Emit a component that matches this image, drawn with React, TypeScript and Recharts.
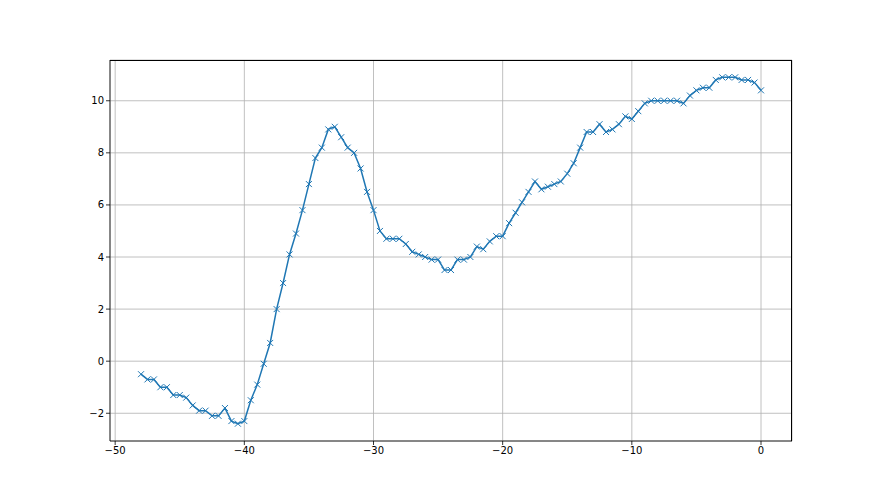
import React from "react";
import { LineChart, Line, XAxis, YAxis, CartesianGrid } from "recharts";

// x positions, step 0.5 from -48 to 0
const xValues: number[] = [
  -48, -47.5, -47, -46.5, -46, -45.5, -45, -44.5, -44, -43.5, -43, -42.5, -42, -41.5, -41, -40.5, -40,
  -39.5, -39, -38.5, -38, -37.5, -37, -36.5, -36, -35.5, -35, -34.5, -34, -33.5, -33, -32.5, -32, -31.5, -31, -30.5, -30,
  -29.5, -29, -28.5, -28, -27.5, -27, -26.5, -26, -25.5, -25, -24.5, -24, -23.5, -23, -22.5, -22, -21.5, -21, -20.5, -20,
  -19.5, -19, -18.5, -18, -17.5, -17, -16.5, -16, -15.5, -15, -14.5, -14, -13.5, -13, -12.5, -12, -11.5, -11, -10.5, -10,
  -9.5, -9, -8.5, -8, -7.5, -7, -6.5, -6, -5.5, -5, -4.5, -4, -3.5, -3, -2.5, -2, -1.5, -1, -0.5, 0,
];

const yValues: number[] = [
  -0.5, -0.7, -0.7, -1.0, -1.0, -1.3, -1.3, -1.4, -1.7, -1.9, -1.9, -2.1, -2.1, -1.8, -2.3, -2.4, -2.3,
  -1.5, -0.9, -0.1, 0.7, 2.0, 3.0, 4.1, 4.9, 5.8, 6.8, 7.8, 8.2, 8.9, 9.0, 8.6, 8.2, 8.0, 7.4, 6.5, 5.8,
  5.0, 4.7, 4.7, 4.7, 4.5, 4.2, 4.1, 4.0, 3.9, 3.9, 3.5, 3.5, 3.9, 3.9, 4.0, 4.4, 4.3, 4.6, 4.8, 4.8,
  5.3, 5.7, 6.1, 6.5, 6.9, 6.6, 6.7, 6.8, 6.9, 7.2, 7.6, 8.2, 8.8, 8.8, 9.1, 8.8, 8.9, 9.1, 9.4, 9.3,
  9.6, 9.9, 10.0, 10.0, 10.0, 10.0, 10.0, 9.9, 10.2, 10.4, 10.5, 10.5, 10.8, 10.9, 10.9, 10.9, 10.8, 10.8, 10.7, 10.4,
];

const xTicks = [-50, -40, -30, -20, -10, 0];
const yTicks = [-2, 0, 2, 4, 6, 8, 10];

const data = xValues.map((x, i) => ({ x, y: yValues[i] }));

const fmt = (v: number) => String(v).replace("-", "\u2212");

const XMarker = (props: any) => {
  const { cx, cy, index } = props;
  if (cx == null || cy == null) return <g key={index} />;
  const s = 3;
  return (
    <path
      key={index}
      d={`M${cx - s},${cy - s}L${cx + s},${cy + s}M${cx - s},${cy + s}L${cx + s},${cy - s}`}
      stroke="#1f77b4"
      strokeWidth={1}
      fill="none"
    />
  );
};

const tickStyle = { fontSize: 10, fill: "#000", fontFamily: "DejaVu Sans" };

export default function App() {
  return (
    <div style={{ position: "absolute", left: 0, top: 0, width: 880, height: 495, background: "#fff" }}>
      <LineChart width={880} height={495} data={data} margin={{ top: 60, right: 88, bottom: 24, left: 0 }}>
        <CartesianGrid stroke="#b0b0b0" strokeWidth={0.8} />
        <XAxis
          dataKey="x"
          type="number"
          domain={[-50.4, 2.4]}
          ticks={xTicks}
          allowDataOverflow
          tickFormatter={fmt}
          tick={tickStyle}
          tickSize={4}
          tickMargin={2}
          height={30}
          axisLine={{ stroke: "#000", strokeWidth: 0.8 }}
          tickLine={{ stroke: "#000", strokeWidth: 0.8 }}
        />
        <YAxis
          type="number"
          domain={[-3.065, 11.565]}
          ticks={yTicks}
          allowDataOverflow
          tickFormatter={fmt}
          tick={tickStyle}
          tickSize={4}
          tickMargin={2}
          width={110}
          axisLine={{ stroke: "#000", strokeWidth: 0.8 }}
          tickLine={{ stroke: "#000", strokeWidth: 0.8 }}
        />
        <Line
          dataKey="y"
          type="linear"
          stroke="#1f77b4"
          strokeWidth={1.5}
          dot={XMarker}
          activeDot={false}
          isAnimationActive={false}
        />
      </LineChart>
      {/* plot frame (top and right spines) */}
      <div
        style={{
          position: "absolute",
          left: 110,
          top: 60,
          width: 682,
          height: 381,
          borderTop: "1px solid #000",
          borderRight: "1px solid #000",
          boxSizing: "border-box",
          pointerEvents: "none",
        }}
      />
    </div>
  );
}
